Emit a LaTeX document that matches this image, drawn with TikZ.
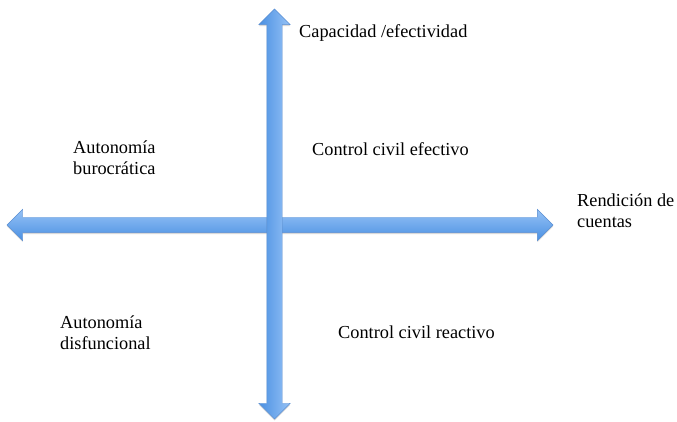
\documentclass[tikz,border=0pt]{standalone}
\usepackage{fontspec}
\setmainfont{Liberation Serif}
\usetikzlibrary{shapes.arrows,shadows}

\definecolor{axislight}{HTML}{96C2F6}
\definecolor{axisdark}{HTML}{4A90E2}
\definecolor{axisedge}{HTML}{5B8FD2}

\begin{document}
\begin{tikzpicture}[x=1pt,y=1pt,
	axis/.style={double arrow, draw=axisedge, line width=0.4pt, inner xsep=0pt, inner ysep=7.5pt,
		double arrow head extend=8pt, double arrow tip angle=90, minimum width=0pt,
		drop shadow={opacity=0.3, shadow xshift=0pt, shadow yshift=-1.5pt}},
	lbl/.style={anchor=west, align=left, inner sep=0pt, font=\fontsize{18.3}{21}\selectfont}]
			\useasboundingbox (0,0) rectangle (677,422);
			
			\node[axis, minimum height=546pt, top color=axislight, bottom color=axisdark] (haxis) at (280,197) {};
			\node[axis, minimum height=410pt, rotate=90, left color=axisdark, right color=axislight] (vaxis) at (274.5,208) {};
			
			\node[lbl] (cap) at (299,389) {Capacidad /efectividad};
			\node[lbl] (rend) at (577,211) {Rendición de\\cuentas};
			\node[lbl] (autburo) at (73,264) {Autonomía\\burocrática};
			\node[lbl] (ccefect) at (312,273) {Control civil efectivo};
			\node[lbl] (autdis) at (60,89) {Autonomía\\disfuncional};
			\node[lbl] (ccreact) at (338,90) {Control civil reactivo};
		\end{tikzpicture}
\end{document}
